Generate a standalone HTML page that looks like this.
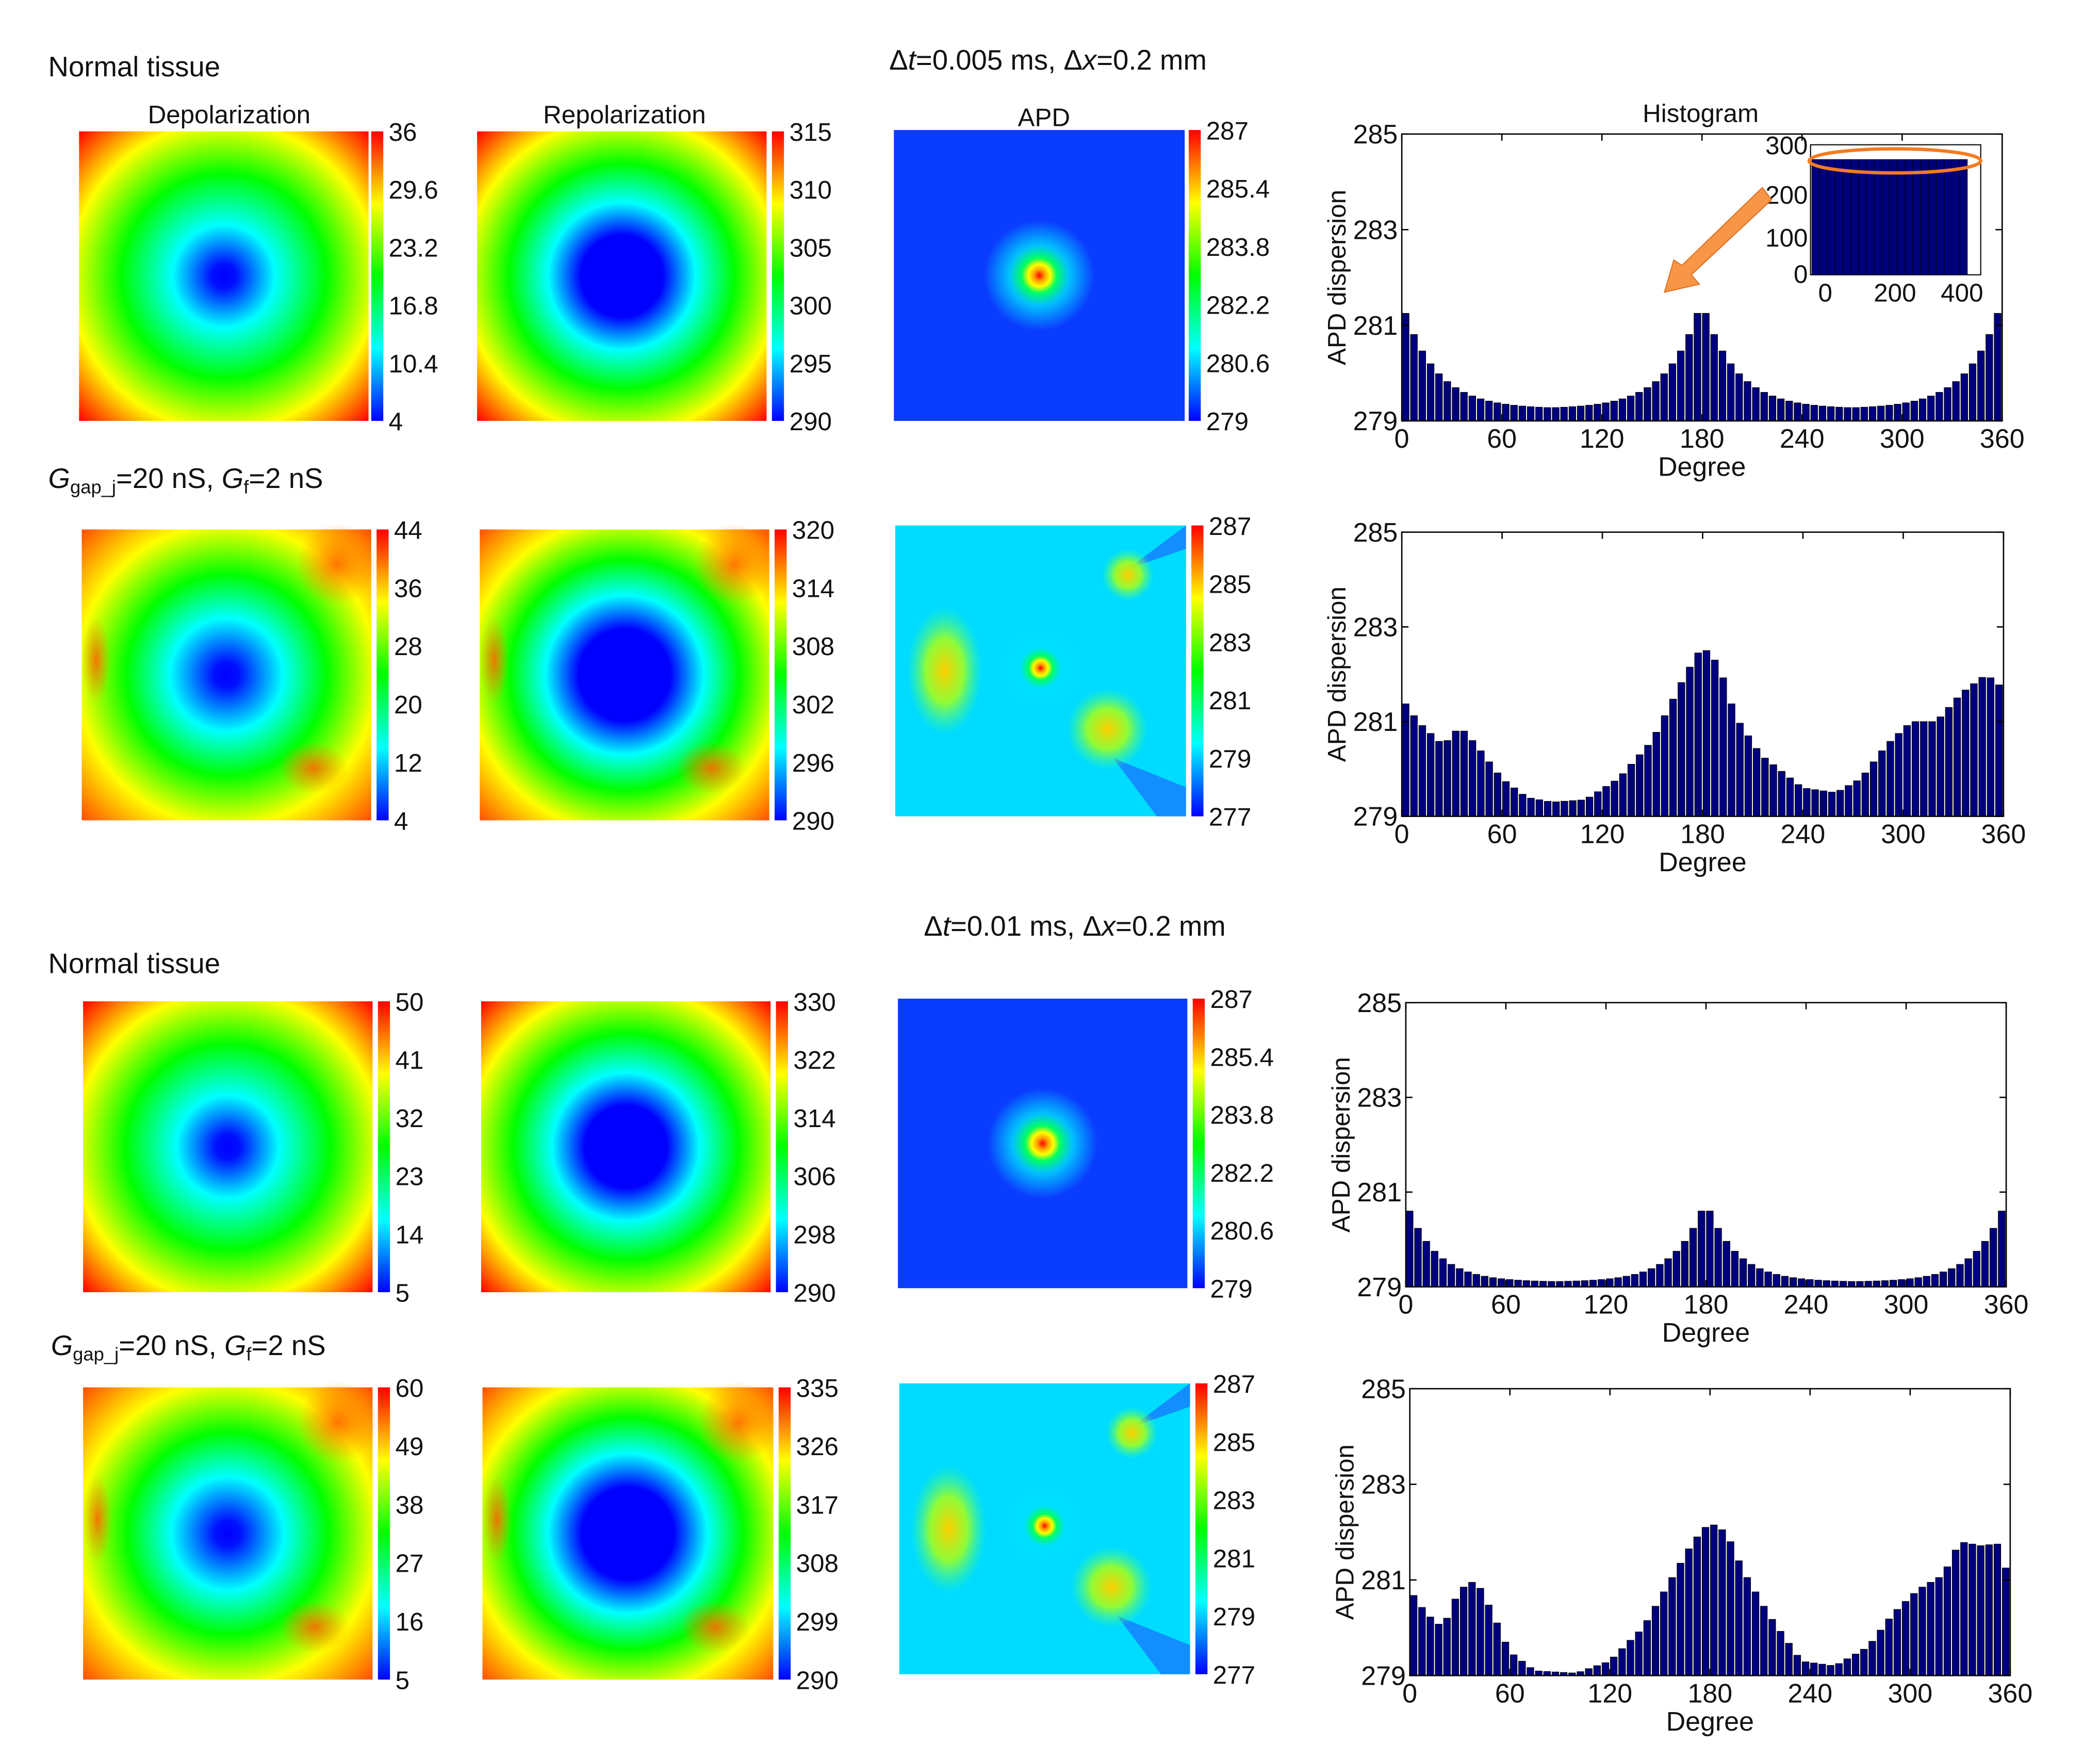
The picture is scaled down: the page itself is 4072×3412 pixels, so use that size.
<!DOCTYPE html>
<html><head><meta charset="utf-8"><style>
html,body{margin:0;padding:0;background:#fff}
svg{display:block}
text{font-family:"Liberation Sans Narrow","Liberation Sans",sans-serif;fill:#111}
</style></head><body>
<svg id="s" width="4072" height="3412" viewBox="0 0 1567 1313" preserveAspectRatio="none" xmlns="http://www.w3.org/2000/svg">
<defs>
<linearGradient id="cb" x1="0" y1="1" x2="0" y2="0">
<stop offset="0" stop-color="#0000ff"/><stop offset=".25" stop-color="#00ffff"/><stop offset=".5" stop-color="#00ff00"/><stop offset=".75" stop-color="#ffff00"/><stop offset="1" stop-color="#ff0000"/></linearGradient>
<radialGradient id="dep" cx=".5" cy=".5" r=".707">
<stop offset="0" stop-color="#0000ff"/><stop offset=".06" stop-color="#0010ff"/><stop offset=".25" stop-color="#00ffff"/><stop offset=".5" stop-color="#00ff00"/><stop offset=".75" stop-color="#ffff00"/><stop offset="1" stop-color="#ff0000"/></radialGradient>
<radialGradient id="rep" cx=".5" cy=".5" r=".707">
<stop offset="0" stop-color="#0000ff"/><stop offset=".2" stop-color="#0000ff"/><stop offset=".36" stop-color="#00ffff"/><stop offset=".55" stop-color="#00ff00"/><stop offset=".77" stop-color="#ffff00"/><stop offset="1" stop-color="#ff0000"/></radialGradient>
<radialGradient id="dep2" cx=".5" cy=".5" r=".72" fx=".5" fy=".5">
<stop offset="0" stop-color="#0000ff"/><stop offset=".06" stop-color="#0010ff"/><stop offset=".27" stop-color="#00ffff"/><stop offset=".48" stop-color="#00ff00"/><stop offset=".72" stop-color="#ffff00"/><stop offset="1" stop-color="#ff4000"/></radialGradient>
<radialGradient id="rep2" cx=".5" cy=".5" r=".72">
<stop offset="0" stop-color="#0000ff"/><stop offset=".22" stop-color="#0000ff"/><stop offset=".38" stop-color="#00ffff"/><stop offset=".55" stop-color="#00ff00"/><stop offset=".75" stop-color="#ffff00"/><stop offset="1" stop-color="#ff4000"/></radialGradient>
<radialGradient id="spot"><stop offset="0" stop-color="#ff0000"/><stop offset=".1" stop-color="#ffa000"/><stop offset=".2" stop-color="#ffff00"/><stop offset=".32" stop-color="#00ff60"/><stop offset=".55" stop-color="#00e0ff" stop-opacity=".8"/><stop offset="1" stop-color="#00e0ff" stop-opacity="0"/></radialGradient>
<radialGradient id="blob"><stop offset="0" stop-color="#ffd000"/><stop offset=".5" stop-color="#a0ff20" stop-opacity=".9"/><stop offset="1" stop-color="#40ff80" stop-opacity="0"/></radialGradient>
<radialGradient id="orb"><stop offset="0" stop-color="#ff6000" stop-opacity=".85"/><stop offset="1" stop-color="#ff8000" stop-opacity="0"/></radialGradient>
</defs>
<g id="g"></g>
</svg>
<script>
var g=document.getElementById('g'),h='';
function T(x,y,s,sz,a,extra){h+='<text x="'+x+'" y="'+y+'" font-size="'+(sz||18)+'" text-anchor="'+(a||'start')+'" '+(extra||'')+'>'+s+'</text>';}
function cbar(x,y0,y1,labels){h+='<rect x="'+x+'" y="'+y0+'" width="9" height="'+(y1-y0)+'" fill="url(#cb)"/>';
 for(var i=0;i<labels.length;i++){var y=y0+(y1-y0)*i/(labels.length-1);T(x+13,y+7,labels[i],19);}}
function map(x,y,w,hh,fill){h+='<rect x="'+x+'" y="'+y+'" width="'+w+'" height="'+hh+'" fill="'+fill+'"/>';}
function het(x,y,w,hh,fill){map(x,y,w,hh,fill);
 h+='<ellipse cx="'+(x+w*0.88)+'" cy="'+(y+hh*0.12)+'" rx="'+w*0.14+'" ry="'+hh*0.14+'" fill="url(#orb)"/>';
 h+='<ellipse cx="'+(x+w*0.8)+'" cy="'+(y+hh*0.82)+'" rx="'+w*0.12+'" ry="'+hh*0.09+'" fill="url(#orb)"/>';
 h+='<ellipse cx="'+(x+w*0.05)+'" cy="'+(y+hh*0.45)+'" rx="'+w*0.05+'" ry="'+hh*0.15+'" fill="url(#orb)"/>';}
function apd(x,y,w,hh){map(x,y,w,hh,'#0a3cff');
 h+='<circle cx="'+(x+w/2)+'" cy="'+(y+hh/2)+'" r="'+w*0.19+'" fill="url(#spot)"/>';}
function apd2(x,y,w,hh){map(x,y,w,hh,'#00dcff');
 h+='<polygon points="'+(x+w*0.75)+','+(y+hh*0.8)+' '+(x+w)+','+(y+hh*0.9)+' '+(x+w)+','+(y+hh)+' '+(x+w*0.9)+','+(y+hh)+'" fill="#1a6cff" opacity=".7"/>';
 h+='<polygon points="'+(x+w*0.8)+','+(y+hh*0.15)+' '+(x+w)+','+(y)+' '+(x+w)+','+(y+hh*0.08)+'" fill="#1a6cff" opacity=".7"/>';
 h+='<ellipse cx="'+(x+w*0.17)+'" cy="'+(y+hh*0.5)+'" rx="'+w*0.13+'" ry="'+hh*0.22+'" fill="url(#blob)"/>';
 h+='<ellipse cx="'+(x+w*0.8)+'" cy="'+(y+hh*0.17)+'" rx="'+w*0.09+'" ry="'+hh*0.09+'" fill="url(#blob)"/>';
 h+='<ellipse cx="'+(x+w*0.73)+'" cy="'+(y+hh*0.7)+'" rx="'+w*0.14+'" ry="'+hh*0.14+'" fill="url(#blob)"/>';
 h+='<circle cx="'+(x+w/2)+'" cy="'+(y+hh*0.49)+'" r="'+w*0.13+'" fill="url(#spot)"/>';}
function hist(x0,y0,x1,y1,vals){var n=vals.length,sw=(x1-x0)/n;
 for(var i=0;i<n;i++){var v=vals[i],yy=y1-(v-279)/6*(y1-y0);
  h+='<rect x="'+(x0+i*sw+0.3)+'" y="'+yy+'" width="'+(sw*0.82)+'" height="'+(y1-yy)+'" fill="#00007f" stroke="#000" stroke-width=".4"/>';}
 h+='<rect x="'+x0+'" y="'+y0+'" width="'+(x1-x0)+'" height="'+(y1-y0)+'" fill="none" stroke="#000" stroke-width="1"/>';
 var yl=[279,281,283,285];for(var k=0;k<4;k++){var y=y1-k/3*(y1-y0);
  h+='<line x1="'+x0+'" x2="'+(x0+5)+'" y1="'+y+'" y2="'+y+'" stroke="#000"/><line x1="'+(x1-5)+'" x2="'+x1+'" y1="'+y+'" y2="'+y+'" stroke="#000"/>';
  T(x0-3,y+7,yl[k],20,'end');}
 for(var k=0;k<=6;k++){var x=x0+k/6*(x1-x0);
  h+='<line x1="'+x+'" x2="'+x+'" y1="'+y1+'" y2="'+(y1-5)+'" stroke="#000"/><line x1="'+x+'" x2="'+x+'" y1="'+y0+'" y2="'+(y0+5)+'" stroke="#000"/>';
  T(x,y1+20,k*60,20,'middle');}
 T((x0+x1)/2,y1+41,'Degree',20,'middle');
 var cy=(y0+y1)/2;T(x0-42,cy,'APD dispersion',19,'middle','transform="rotate(-90 '+(x0-42)+' '+cy+')"');}
function sym(peak,base,tau){var a=[];for(var i=0;i<72;i++){var c=i*5+2.5,d=Math.min(c,Math.abs(c-180),360-c)-2.5;a.push(base+(peak-base)*Math.exp(-d/tau));}return a;}
function interp(pts){var a=[];for(var i=0;i<72;i++){var c=i*5+2.5;for(var j=0;j<pts.length-1;j++){if(c>=pts[j][0]&&c<=pts[j+1][0]){var t=(c-pts[j][0])/(pts[j+1][0]-pts[j][0]);a.push(pts[j][1]+t*(pts[j+1][1]-pts[j][1]));break;}}}return a;}

T(36,57,'Normal tissue',21);
T(782,52,'Δ<tspan font-style="italic">t</tspan>=0.005 ms, Δ<tspan font-style="italic">x</tspan>=0.2 mm',21,'middle');
T(171,92,'Depolarization',19,'middle');T(466,92,'Repolarization',19,'middle');T(779,94,'APD',19,'middle');T(1269,91,'Histogram',19,'middle');
T(36,364,'<tspan font-style="italic">G</tspan><tspan font-size="14" dy="4">gap_j</tspan><tspan dy="-4">=20 nS, </tspan><tspan font-style="italic">G</tspan><tspan font-size="14" dy="4">f</tspan><tspan dy="-4">=2 nS</tspan>',21);
T(802,698,'Δ<tspan font-style="italic">t</tspan>=0.01 ms, Δ<tspan font-style="italic">x</tspan>=0.2 mm',21,'middle');
T(36,726,'Normal tissue',21);
T(38,1011,'<tspan font-style="italic">G</tspan><tspan font-size="14" dy="4">gap_j</tspan><tspan dy="-4">=20 nS, </tspan><tspan font-style="italic">G</tspan><tspan font-size="14" dy="4">f</tspan><tspan dy="-4">=2 nS</tspan>',21);

map(59,98,216,216,'url(#dep)');cbar(277,98,314,['36','29.6','23.2','16.8','10.4','4']);
map(356,98,216,216,'url(#rep)');cbar(576,98,314,['315','310','305','300','295','290']);
apd(667,97,217,217);cbar(887,97,314,['287','285.4','283.8','282.2','280.6','279']);
hist(1046,100,1494,314,sym(281.25,279.25,20));
(function(){var x0=1351,y0=108,x1=1478,y1=205;
 h+='<rect x="'+x0+'" y="'+y0+'" width="'+(x1-x0)+'" height="'+(y1-y0)+'" fill="#fff" stroke="#000" stroke-width=".8"/>';
 for(var i=0;i<20;i+=1){h+='<rect x="'+(x0+1+i*5.8)+'" y="'+(y0+11)+'" width="5.8" height="'+(y1-y0-11)+'" fill="#00007a" stroke="#000" stroke-width=".4"/>';}
 h+='<ellipse cx="1414" cy="120" rx="64" ry="9" fill="none" stroke="#f47b20" stroke-width="2.5"/>';
 T(x0-2,115,'300',19,'end');T(x0-2,152,'200',19,'end');T(x0-2,184,'100',19,'end');T(x0-2,211,'0',19,'end');
 T(1362,225,'0',19,'middle');T(1414,225,'200',19,'middle');T(1464,225,'400',19,'middle');
 h+='<polygon points="1315,140 1322,149 1262,205 1268,212 1242,218 1249,194 1255,198" fill="#f79646" stroke="#e07020" stroke-width=".8"/>';
})();

het(61,395,216,217,'url(#dep2)');cbar(281,395,612,['44','36','28','20','12','4']);
het(358,395,216,217,'url(#rep2)');cbar(578,395,612,['320','314','308','302','296','290']);
apd2(668,392,217,217);cbar(889,392,609,['287','285','283','281','279','277']);
hist(1046,397,1495,609,interp([[0,281.5],[10,281],[25,280.5],[35,280.9],[45,280.5],[60,279.8],[75,279.4],[90,279.3],[110,279.35],[130,279.8],[150,280.6],[170,282],[180,282.6],[190,282.2],[200,281.1],[215,280.3],[240,279.6],[260,279.5],[275,279.8],[290,280.5],[305,281],[320,281],[335,281.6],[350,282],[360,281.7]]));

map(62,747,216,217,'url(#dep)');cbar(282,747,964,['50','41','32','23','14','5']);
map(359,747,216,217,'url(#rep)');cbar(579,747,964,['330','322','314','306','298','290']);
apd(670,745,216,216);cbar(890,745,961,['287','285.4','283.8','282.2','280.6','279']);
hist(1049,748,1497,960,sym(280.6,279.1,18));

het(62,1035,216,218,'url(#dep2)');cbar(282,1035,1253,['60','49','38','27','16','5']);
het(360,1035,217,218,'url(#rep2)');cbar(581,1035,1253,['335','326','317','308','299','290']);
apd2(671,1032,217,217);cbar(892,1032,1249,['287','285','283','281','279','277']);
hist(1052,1036,1500,1250,interp([[0,280.8],[10,280.3],[20,280],[30,280.8],[40,281],[50,280.3],[60,279.5],[75,279.1],[100,279.05],[120,279.3],[140,280],[155,280.9],[170,281.8],[180,282.2],[190,282],[200,281.2],[215,280.3],[235,279.3],[255,279.2],[275,279.6],[290,280.3],[305,280.8],[320,281.1],[330,281.8],[345,281.7],[352,281.8],[360,281]]));

g.innerHTML=h;
</script>
</body></html>
